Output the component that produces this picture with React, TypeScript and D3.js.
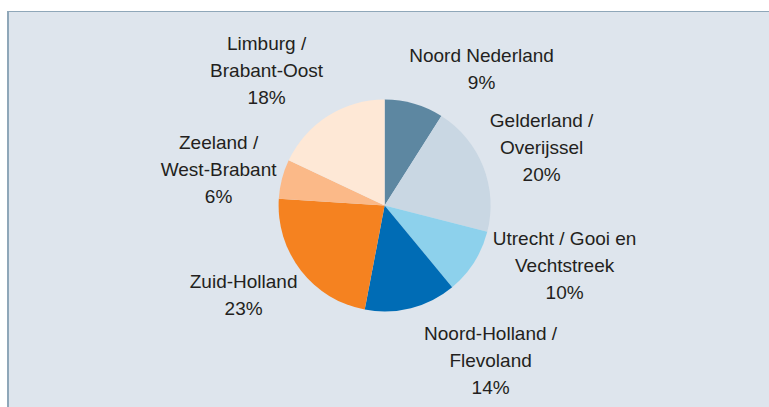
import React from 'react'
import * as d3 from 'd3'

// regio's, met de klok mee vanaf boven
const regions = [
  'Noord Nederland',
  'Gelderland /\nOverijssel',
  'Utrecht / Gooi en\nVechtstreek',
  'Noord-Holland /\nFlevoland',
  'Zuid-Holland',
  'Zeeland /\nWest-Brabant',
  'Limburg /\nBrabant-Oost'
]
const shares = [9, 20, 10, 14, 23, 6, 18]
const sliceColors = [
  '#5d87a1',
  '#c9d7e3',
  '#8dd1ec',
  '#006cb5',
  '#f58220',
  '#fbb988',
  '#fee8d6'
]

// plek van elk label t.o.v. het midden van de taart
const labelAnchors: [number, number][] = [
  [97, -137],
  [157, -58],
  [180, 60],
  [106, 155],
  [-141, 89],
  [-166, -36],
  [-118, -135]
]

const W = 769
const H = 407
const cx = 384.6
const cy = 205.5
const radius = 106
const lineH = 27

const App = () => {
  const pie = d3
    .pie<number>()
    .sort(null)
    .value((d) => d)
  const arcs = pie(shares)
  const arc = d3
    .arc<d3.PieArcDatum<number>>()
    .innerRadius(0)
    .outerRadius(radius)

  return (
    <svg
      width={W}
      height={H}
      style={{ position: 'absolute', left: 0, top: 0 }}
      fontFamily="'Liberation Sans', Arial, sans-serif"
    >
      {/* achtergrondvlak */}
      <rect x={0} y={0} width={W} height={H} fill="#ffffff" />
      <rect x={8} y={11} width={W + 10} height={H + 10} fill="#dee5ed" />
      <line x1={8} y1={11.5} x2={W} y2={11.5} stroke="#8fa7b9" strokeWidth={1} />
      <line x1={8} y1={11} x2={8} y2={H} stroke="#8fa7b9" strokeWidth={2} />

      <g transform={`translate(${cx},${cy})`}>
        {arcs.map((a, i) => (
          <path key={i} d={arc(a) || ''} fill={sliceColors[i]} />
        ))}

        {arcs.map((a, i) => {
          const lines = regions[i].split('\n').concat([shares[i] + '%'])
          const [lx, ly] = labelAnchors[i]
          const n = lines.length
          return (
            <text
              key={'l' + i}
              x={lx}
              textAnchor="middle"
              fontSize={19}
              fill="#231f20"
            >
              {lines.map((t, j) => (
                <tspan key={j} x={lx} y={ly + (j - (n - 1) / 2) * lineH + 6.5}>
                  {t}
                </tspan>
              ))}
            </text>
          )
        })}
      </g>
    </svg>
  )
}

export default App
